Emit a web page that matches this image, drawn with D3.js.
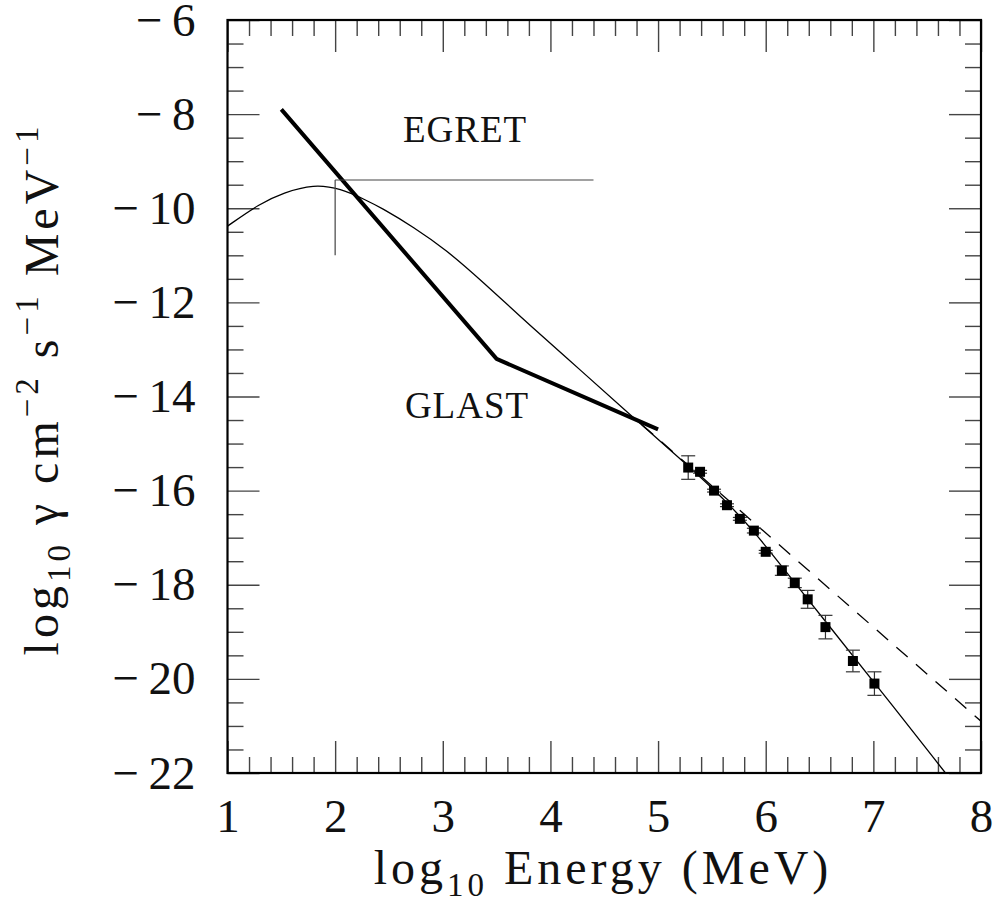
<!DOCTYPE html>
<html>
<head>
<meta charset="utf-8">
<script src="https://cdn.jsdelivr.net/npm/d3@7"></script>
<style>
  body { margin: 0; background: #fff; }
  text { font-family: "Liberation Serif", "DejaVu Serif", serif; fill: #111; }
</style>
</head>
<body>
<div id="chart"></div>
<script>
// model spectrum (thin solid curve), log10 E vs log10 flux
const modelE = [1.0, 1.3, 1.52, 1.8, 2.05, 2.29, 2.42, 2.73, 3.04, 3.35, 3.84, 4.28, 4.74, 5.24, 5.6, 5.89, 6.27, 6.57, 7.01, 7.67];
const modelF = [-10.38, -9.9, -9.67, -9.49, -9.58, -9.83, -9.98, -10.4, -10.9, -11.52, -12.55, -13.44, -14.39, -15.39, -16.15, -16.85, -17.96, -18.82, -20.08, -22.0];

// dashed power-law extrapolation
const dashE = [4.85, 8.0];
const dashF = [-14.6, -20.9];

// GLAST sensitivity (thick line)
const glastE = [1.5, 3.5, 5.0];
const glastF = [-7.9, -13.2, -14.7];

// EGRET marker
const egretE = [2.0, 4.4];
const egretF = [-9.4, -11.0];

// measured points with errors
const dataE = [5.28, 5.39, 5.52, 5.64, 5.76, 5.89, 6.0, 6.15, 6.27, 6.39, 6.555, 6.81, 7.01];
const dataF = [-15.51, -15.6, -16.0, -16.31, -16.6, -16.85, -17.3, -17.7, -17.96, -18.31, -18.9, -19.62, -20.1];
const dataErr = [0.25, 0.03, 0.03, 0.03, 0.03, 0.05, 0.03, 0.1, 0.1, 0.19, 0.25, 0.23, 0.25];

const xMajor = [1, 2, 3, 4, 5, 6, 7, 8];
const yMajor = [-22, -20, -18, -16, -14, -12, -10, -8, -6];

document.addEventListener('DOMContentLoaded', () => {
    const W = 996, H = 920;
    const plot = { left: 227.5, right: 981, top: 20, bottom: 773 };

    const svg = d3.select("#chart")
        .append("svg")
        .attr("width", W)
        .attr("height", H);

    const x = d3.scaleLinear().domain([1, 8]).range([plot.left, plot.right]);
    const y = d3.scaleLinear().domain([-22, -6]).range([plot.bottom, plot.top]);

    const xMinor = d3.range(1, 8.001, 0.2).map(v => +v.toFixed(1)).filter(v => !xMajor.includes(v));
    const yMinor = d3.range(-22, -5.999, 0.5).filter(v => !yMajor.includes(v));

    svg.append("defs").append("clipPath").attr("id", "clip")
        .append("rect")
        .attr("x", plot.left).attr("y", plot.top)
        .attr("width", plot.right - plot.left)
        .attr("height", plot.bottom - plot.top);

    // tick label: wide TeX-like minus sign
    const fmt = d => d < 0 ? "\u2212\u2009" + Math.abs(d) : String(d);

    // ticks on all four sides, pointing inward
    const tickAxes = [
        [d3.axisBottom(x), `translate(0,${plot.bottom})`, xMajor, xMinor, true, 26],
        [d3.axisTop(x), `translate(0,${plot.top})`, xMajor, xMinor, false, 0],
        [d3.axisLeft(y), `translate(${plot.left},0)`, yMajor, yMinor, true, 32],
        [d3.axisRight(y), `translate(${plot.right},0)`, yMajor, yMinor, false, 0]
    ];

    tickAxes.forEach(([axis, tr, major, minor, labelled, pad]) => {
        const gMin = svg.append("g")
            .attr("transform", tr)
            .call(axis.tickValues(minor).tickSize(-16).tickFormat(""));
        gMin.select(".domain").remove();

        const gMaj = svg.append("g")
            .attr("transform", tr)
            .call(axis.tickValues(major).tickSize(-32)
                .tickPadding(pad)
                .tickFormat(labelled ? fmt : ""));
        gMaj.select(".domain").remove();
        gMaj.selectAll("text")
            .style("font-size", "47px")
            .style("font-family", "'Liberation Serif', serif")
            .attr("fill", "#111");
    });

    svg.selectAll(".tick line")
        .attr("stroke", "#444")
        .attr("stroke-width", 1.4);

    svg.append("rect")
        .attr("x", plot.left).attr("y", plot.top)
        .attr("width", plot.right - plot.left)
        .attr("height", plot.bottom - plot.top)
        .attr("fill", "none")
        .attr("stroke", "#000")
        .attr("stroke-width", 2.2);

    const g = svg.append("g").attr("clip-path", "url(#clip)");

    const line = d3.line().x(d => x(d[0])).y(d => y(d[1]));
    const smooth = d3.line().x(d => x(d[0])).y(d => y(d[1])).curve(d3.curveBasis);

    // model curve
    g.append("path")
        .datum(modelE.map((e, i) => [e, modelF[i]]))
        .attr("d", smooth)
        .attr("fill", "none")
        .attr("stroke", "#000")
        .attr("stroke-width", 1.3);

    // dashed extrapolation
    g.append("path")
        .datum(dashE.map((e, i) => [e, dashF[i]]))
        .attr("d", line)
        .attr("fill", "none")
        .attr("stroke", "#000")
        .attr("stroke-width", 1.3)
        .attr("stroke-dasharray", "15,11");

    // GLAST
    g.append("path")
        .datum(glastE.map((e, i) => [e, glastF[i]]))
        .attr("d", line)
        .attr("fill", "none")
        .attr("stroke", "#000")
        .attr("stroke-width", 4)
        .attr("stroke-linejoin", "round");

    // EGRET cross: horizontal at flux, vertical bar down at 2.0
    g.append("line")
        .attr("x1", x(egretE[0])).attr("x2", x(egretE[1]))
        .attr("y1", y(egretF[0])).attr("y2", y(egretF[0]))
        .attr("stroke", "#444").attr("stroke-width", 1.2);
    g.append("line")
        .attr("x1", x(egretE[0])).attr("x2", x(egretE[0]))
        .attr("y1", y(egretF[0])).attr("y2", y(egretF[1]))
        .attr("stroke", "#444").attr("stroke-width", 1.2);

    // data points
    const pts = dataE.map((e, i) => ({ e, f: dataF[i], err: dataErr[i] }));
    const pg = g.selectAll(".pt")
        .data(pts)
        .enter()
        .append("g")
        .attr("class", "pt");

    pg.append("line")
        .attr("x1", d => x(d.e)).attr("x2", d => x(d.e))
        .attr("y1", d => y(d.f + d.err)).attr("y2", d => y(d.f - d.err))
        .attr("stroke", "#333").attr("stroke-width", 1.2);
    [1, -1].forEach(s => {
        pg.append("line")
            .attr("x1", d => x(d.e) - 7).attr("x2", d => x(d.e) + 7)
            .attr("y1", d => y(d.f + s * d.err)).attr("y2", d => y(d.f + s * d.err))
            .attr("stroke", "#333").attr("stroke-width", 1.2);
    });
    pg.append("rect")
        .attr("x", d => x(d.e) - 5).attr("y", d => y(d.f) - 5)
        .attr("width", 10).attr("height", 10)
        .attr("fill", "#000");

    // labels
    svg.append("text")
        .attr("x", 465).attr("y", 142)
        .attr("text-anchor", "middle")
        .style("font-size", "37px")
        .style("letter-spacing", "1px")
        .text("EGRET");
    svg.append("text")
        .attr("x", 467).attr("y", 418)
        .attr("text-anchor", "middle")
        .style("font-size", "37px")
        .style("letter-spacing", "1px")
        .text("GLAST");

    // x title
    const xt = svg.append("text")
        .attr("x", 603)
        .attr("y", 884)
        .attr("text-anchor", "middle")
        .style("font-size", "48px")
        .style("letter-spacing", "4px");
    xt.append("tspan").text("log");
    xt.append("tspan").attr("dy", 12).style("font-size", "33px").text("10");
    xt.append("tspan").attr("dy", -12).text(" Energy (MeV)");

    // y title
    const yt = svg.append("text")
        .attr("transform", `translate(58,${389}) rotate(-90)`)
        .attr("text-anchor", "middle")
        .style("font-size", "48px")
        .style("letter-spacing", "4px");
    yt.append("tspan").text("log");
    yt.append("tspan").attr("dy", 12).style("font-size", "33px").text("10");
    yt.append("tspan").attr("dy", -12).text(" γ cm");
    yt.append("tspan").attr("dy", -20).style("font-size", "33px").text("−2");
    yt.append("tspan").attr("dy", 20).text(" s");
    yt.append("tspan").attr("dy", -20).style("font-size", "33px").text("−1");
    yt.append("tspan").attr("dy", 20).text(" MeV");
    yt.append("tspan").attr("dy", -20).style("font-size", "33px").text("−1");
});
</script>
</body>
</html>
